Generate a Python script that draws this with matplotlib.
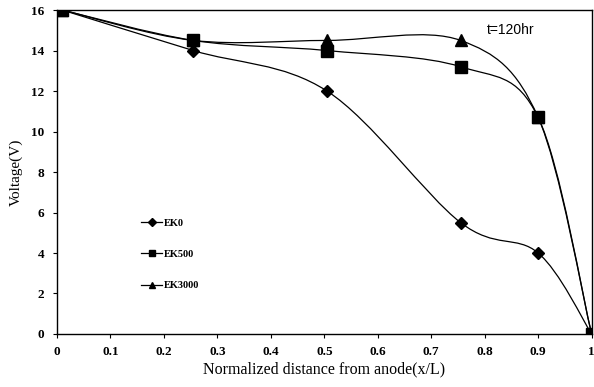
import numpy as np
import matplotlib
matplotlib.use('Agg')
import matplotlib.pyplot as plt
from matplotlib.path import Path
from matplotlib.patches import PathPatch

# data
x = [0.01, 0.255, 0.505, 0.755, 0.9, 1.0]
ek0 = [16, 14, 12, 5.5, 4.0, 0]
ek500 = [16, 14.5, 14.0, 13.2, 10.7, 0]
ek3000 = [16, 14.5, 14.5, 14.5, 10.7, 0]
xticks = [0, 0.1, 0.2, 0.3, 0.4, 0.5, 0.6, 0.7, 0.8, 0.9, 1]
yticks = [0, 2, 4, 6, 8, 10, 12, 14, 16]

plt.rcParams['font.family'] = ['Liberation Serif', 'DejaVu Serif']


def smooth_path(xs, ys):
    # Excel-like smoothed line: cubic bezier (catmull-rom) through the points
    p = np.column_stack([xs, ys]).astype(float)
    pts = [p[0]]
    codes = [Path.MOVETO]
    n = len(p)
    for i in range(n - 1):
        p0 = p[i - 1] if i > 0 else p[i]
        p3 = p[i + 2] if i + 2 < n else p[i + 1]
        c1 = p[i] + (p[i + 1] - p0) / 6.0
        c2 = p[i + 1] - (p3 - p[i]) / 6.0
        pts += [c1, c2, p[i + 1]]
        codes += [Path.CURVE4] * 3
    return Path(pts, codes)


fig = plt.figure(figsize=(5.94, 3.87), dpi=100)
ax = fig.add_axes([0.096, 0.137, 0.9, 0.837])

series = [(ek0, 'D', 6, 'EK0'), (ek500, 's', 8, 'EK500'), (ek3000, '^', 8, 'EK3000')]
handles = []
for ys, m, ms, lab in series:
    ax.add_patch(PathPatch(smooth_path(x, ys), fill=False, ec='black', lw=0.9))
    ax.plot(x, ys, ls='none', marker=m, ms=ms, color='black')
    h, = ax.plot([], [], color='black', lw=0.9, marker=m, ms=4, label=lab)
    handles.append(h)

ax.set_xlim(0, 1)
ax.set_ylim(0, 16)
ax.set_xticks(xticks)
ax.set_xticklabels(['0', '0.1', '0.2', '0.3', '0.4', '0.5', '0.6', '0.7', '0.8', '0.9', '1'])
ax.set_yticks(yticks)
ax.tick_params(labelsize=9.5, length=3, width=0.8, direction='out')
ax.tick_params(axis='x', pad=6)
ax.tick_params(axis='y', pad=6)
for lbl in ax.get_xticklabels() + ax.get_yticklabels():
    lbl.set_fontweight('bold')
for s in ax.spines.values():
    s.set_linewidth(1.0)

ax.set_xlabel('Normalized distance from anode(x/L)', fontsize=11.5, labelpad=2)
ax.set_ylabel('Voltage(V)', fontsize=11, labelpad=6)

ax.text(0.849, 0.938, 't=120hr', transform=ax.transAxes, fontsize=10,
        family='Liberation Sans', ha='center', va='center')

leg = ax.legend(handles=handles, loc='upper left', bbox_to_anchor=(0.14, 0.385), frameon=False,
                fontsize=7.5, labelspacing=2.1, handlelength=2.0, handletextpad=0.2)
for t in leg.get_texts():
    t.set_fontweight('bold')

fig.savefig('out.png', dpi=100)
